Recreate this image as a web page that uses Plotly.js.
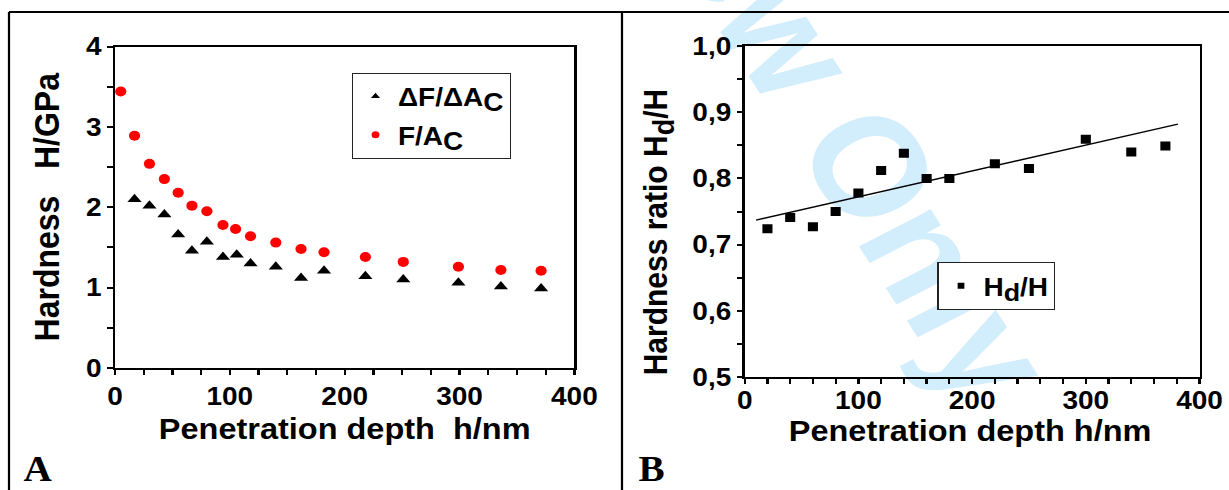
<!DOCTYPE html>
<html>
<head>
<meta charset="utf-8">
<script src="https://cdn.plot.ly/plotly-3.0.1.min.js"></script>
<style>
html,body{margin:0;padding:0;background:#fff;overflow:hidden;}
#wrap{width:1229px;height:490px;overflow:hidden;position:relative;}
#plot{width:1097px;height:490px;transform:scaleX(1.120328);transform-origin:0 0;}
</style>
</head>
<body>
<div id="wrap"><div id="plot"></div></div>
<script>
// ---- Panel A data ----
const depthDiff = [17, 30, 43, 55, 67, 80, 94, 106, 118, 140, 162, 182, 218, 251, 299, 336, 371];
const hardDiff  = [2.10, 2.02, 1.91, 1.66, 1.46, 1.57, 1.38, 1.41, 1.30, 1.26, 1.12, 1.21, 1.14, 1.10, 1.06, 1.015, 0.99];
const depthMean = [5, 17, 30, 43, 55, 67, 80, 94, 105, 118, 140, 162, 182, 218, 251, 299, 336, 371];
const hardMean  = [3.44, 2.89, 2.54, 2.35, 2.18, 2.02, 1.95, 1.78, 1.73, 1.64, 1.56, 1.48, 1.44, 1.38, 1.32, 1.26, 1.22, 1.21];
// ---- Panel B data ----
const depthRatio = [20, 40, 60, 80, 100, 120, 140, 160, 180, 220, 250, 300, 340, 370];
const ratioHdH   = [0.724, 0.741, 0.727, 0.750, 0.778, 0.812, 0.838, 0.800, 0.800, 0.822, 0.815, 0.859, 0.840, 0.849];
const fitX = [10, 381];
const fitY = [0.737, 0.882];
// ---- labels ----
const nameDiff = "ΔF/ΔA<sub><span style='font-size:25px'>C</span></sub>";
const nameMean = "F/A<sub><span style='font-size:25px'>C</span></sub>";
const nameRatio = "H<sub><span style='font-size:24px'>d</span></sub>/H";
const xTitleA = "Penetration depth\u00a0\u00a0h/nm";
const yTitleA = "Hardness\u00a0\u00a0\u00a0H/GPa";
const xTitleB = "Penetration depth h/nm";
const yTitleB = "Hardness ratio H<sub><span style='font-size:27px'>d</span></sub>/H";
const panelLabels = ['A', 'B'];

const FONT = "Liberation Sans, Arial, Helvetica, sans-serif";
const SERIF = "Liberation Serif, Times New Roman, serif";

const traces = [
  {x: depthDiff, y: hardDiff, xaxis:'x', yaxis:'y', mode:'markers', type:'scatter', showlegend:false,
   marker:{symbol:'triangle-up', size:11, color:'#000'}},
  {x: depthMean, y: hardMean, xaxis:'x', yaxis:'y', mode:'markers', type:'scatter', showlegend:false,
   marker:{symbol:'circle', size:10, color:'#ff0000'}},
  {x:[null], y:[null], xaxis:'x', yaxis:'y', mode:'markers', type:'scatter', name:nameDiff,
   legend:'legend', legendgroup:'a', marker:{symbol:'triangle-up', size:7, color:'#000'}},
  {x:[null], y:[null], xaxis:'x', yaxis:'y', mode:'markers', type:'scatter', name:nameMean,
   legend:'legend', legendgroup:'b', marker:{symbol:'circle', size:7, color:'#ff0000'}},
  {x: fitX, y: fitY, xaxis:'x2', yaxis:'y2', mode:'lines', type:'scatter', showlegend:false,
   line:{color:'#000', width:1.5}},
  {x: depthRatio, y: ratioHdH, xaxis:'x2', yaxis:'y2', mode:'markers', type:'scatter', showlegend:false,
   marker:{symbol:'square', size:9, color:'#000'}},
  {x:[null], y:[null], xaxis:'x2', yaxis:'y2', mode:'markers', type:'scatter', name:nameRatio,
   legend:'legend2', marker:{symbol:'square', size:6, color:'#000'}}
];

function axisBase(extra){
  return Object.assign({
    showline:true, linecolor:'#000', linewidth:2, mirror:true,
    showgrid:false, zeroline:false, ticks:'outside', ticklen:5, tickwidth:2, tickcolor:'#000',
    tickfont:{family:FONT, size:25, color:'#000', weight:'bold'}
  }, extra);
}
const titleFont = (s) => ({family:FONT, size:s, color:'#000', weight:'bold'});

const layout = {
  width:1097, height:490,
  margin:{l:0, r:0, t:0, b:0},
  paper_bgcolor:'#fff', plot_bgcolor:'#fff',
  separators:',.',
  showlegend:true,
  xaxis: axisBase({domain:[0.09357, 0.46737], anchor:'y', range:[0,400], tick0:0, dtick:100,
    minor:{dtick:25, ticks:'outside', ticklen:5, tickwidth:2, tickcolor:'#000', showgrid:false},
    title:{text:xTitleA, font:titleFont(29), standoff:10}}),
  yaxis: axisBase({domain:[0.2490, 0.9051], anchor:'x', range:[0,4], tick0:0, dtick:1,
    minor:{dtick:0.5, ticks:'outside', ticklen:5, tickwidth:2, tickcolor:'#000', showgrid:false},
    title:{text:yTitleA, font:titleFont(32), standoff:14}}),
  xaxis2: axisBase({domain:[0.60594, 0.97600], anchor:'y2', range:[0,400], tick0:0, dtick:100,
    ticklabelstandoff:-5,
    minor:{dtick:20, ticks:'outside', ticklen:5, tickwidth:2, tickcolor:'#000', showgrid:false}}),
  yaxis2: axisBase({domain:[0.2306, 0.9061], anchor:'x2', range:[0.5,1.0], tick0:0.5, dtick:0.1, tickformat:'.1f',
    minor:{dtick:0.05, ticks:'outside', ticklen:5, tickwidth:2, tickcolor:'#000', showgrid:false}}),
  legend:{x:0.2864, y:0.852, xanchor:'left', yanchor:'top', bgcolor:'#fff', bordercolor:'#222', borderwidth:1,
    font:{family:FONT, size:25, color:'#000', weight:'bold'}, tracegroupgap:3, traceorder:'grouped'},
  legend2:{x:0.7628, y:0.4653, xanchor:'left', yanchor:'top', bgcolor:'#fff', bordercolor:'#222', borderwidth:1,
    font:{family:FONT, size:25, color:'#000', weight:'bold'}},
  shapes:[
    {type:'line', xref:'paper', yref:'paper', x0:0.00732, x1:1.01, y0:0.97551, y1:0.97551, line:{color:'#000', width:2}},
    {type:'line', xref:'paper', yref:'paper', x0:0.00732, x1:0.00732, y0:0.97551, y1:-0.02, line:{color:'#000', width:2}},
    {type:'line', xref:'paper', yref:'paper', x0:0.5061, x1:0.5061, y0:0.97551, y1:-0.02, line:{color:'#000', width:2}},
    {type:'line', xref:'paper', yref:'paper', layer:'below', x0:0.4941, y0:1.5422, x1:0.6764, y1:0.8353,
     line:{color:'rgba(0,0,0,0)', width:0},
     label:{text:'For Review Only', textangle:'auto', textposition:'middle', yanchor:'middle',
       font:{family:FONT, size:140, color:'rgb(210,237,252)', weight:'bold'}}}
  ],
  annotations:[
    {xref:'paper', yref:'paper', x:0.7897, y:0.1204, xanchor:'center', yanchor:'middle', showarrow:false,
     text:xTitleB, font:titleFont(29)},
    {xref:'paper', yref:'paper', x:0.5354, y:0.5265, xanchor:'center', yanchor:'middle', showarrow:false,
     textangle:-90, text:yTitleB, font:titleFont(30)},
    {xref:'paper', yref:'paper', x:0.0179, y:0, xanchor:'left', yanchor:'bottom', showarrow:false, borderpad:0,
     text:panelLabels[0], font:{family:SERIF, size:35, color:'#000', weight:'bold'}},
    {xref:'paper', yref:'paper', x:0.5191, y:0, xanchor:'left', yanchor:'bottom', showarrow:false, borderpad:0,
     text:panelLabels[1], font:{family:SERIF, size:35, color:'#000', weight:'bold'}}
  ]
};

Plotly.newPlot('plot', traces, layout, {staticPlot:true, displayModeBar:false});
</script>
</body>
</html>
